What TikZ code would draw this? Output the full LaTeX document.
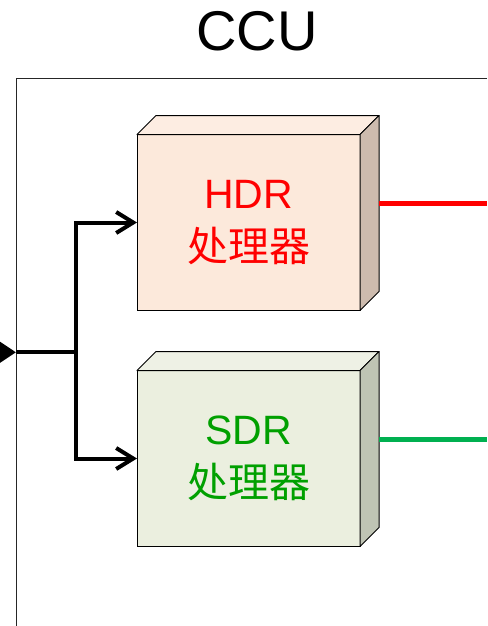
\documentclass[tikz,border=0pt]{standalone}
\usepackage{fontspec}
\setmainfont{Liberation Sans}
\newfontfamily\cjkfont{Noto Sans CJK SC}
\usepackage{tikz}
\usetikzlibrary{arrows.meta}
\definecolor{hdrfront}{HTML}{FCE9DB}
\definecolor{hdrtop}{HTML}{FDEDE2}
\definecolor{hdrside}{HTML}{CDBBAE}
\definecolor{sdrfront}{HTML}{EBEFDF}
\definecolor{sdrtop}{HTML}{EEF1E5}
\definecolor{sdrside}{HTML}{BFC4B4}
\definecolor{sdrtext}{HTML}{00A000}
\definecolor{sdrline}{HTML}{00B050}

\begin{document}
\begin{tikzpicture}[x=1pt,y=-1pt,
  procbox/.style={draw,line width=1pt,outer sep=0pt,inner sep=0pt,
    minimum width=223pt,minimum height=176pt,align=center,
    font=\fontsize{41}{53}\selectfont},
  face/.style={draw,line width=1pt,line join=round},
  feed/.style={line width=4pt},
  outline/.style={line width=4.5pt}]
\useasboundingbox (0,0) rectangle (487,626);
% --- the CCU frame ---
\node[font=\fontsize{56}{60}\selectfont,anchor=base] (title) at (257,51) {CCU};
\draw[black!85,line width=1pt] (487,78) -- (16,78) -- (16,626);
\coordinate (rim) at (487,0);
% --- the two processors ---
\node[procbox,fill=hdrfront,text=red] (hdr) at (248.5,222.5) {HDR\\\cjkfont 处理器};
\draw[face,fill=hdrtop] (hdr.north west) -- ++(19,-19) -- ++(223,0) -- (hdr.north east) -- cycle;
\draw[face,fill=hdrside] (hdr.north east) -- ++(19,-19) -- ++(0,176) -- (hdr.south east) -- cycle;
\node[procbox,fill=sdrfront,text=sdrtext] (sdr) at (248.5,458.5) {SDR\\\cjkfont 处理器};
\draw[face,fill=sdrtop] (sdr.north west) -- ++(19,-19) -- ++(223,0) -- (sdr.north east) -- cycle;
\draw[face,fill=sdrside] (sdr.north east) -- ++(19,-19) -- ++(0,176) -- (sdr.south east) -- cycle;
% --- input and the split ---
\coordinate (in) at (0,352.3);
\coordinate (port) at (16,352.3);
\coordinate (split) at (76,352.3);
\draw[feed,-{Triangle[length=16pt,width=20pt]}] (in) -- (port);
\draw[feed,-{Straight Barb[length=17pt,width=21pt]}] (port) -- (split) |- (hdr.west);
\draw[feed,-{Straight Barb[length=17pt,width=21pt]}] (split) |- (sdr.west);
% --- outputs ---
\coordinate (hdr-out) at ([shift={(19,-19)}]hdr.east);
\coordinate (sdr-out) at ([shift={(19,-19)}]sdr.east);
\draw[outline,red] (hdr-out) -- (hdr-out -| rim);
\draw[outline,sdrline] (sdr-out) -- (sdr-out -| rim);
\end{tikzpicture}
\end{document}
